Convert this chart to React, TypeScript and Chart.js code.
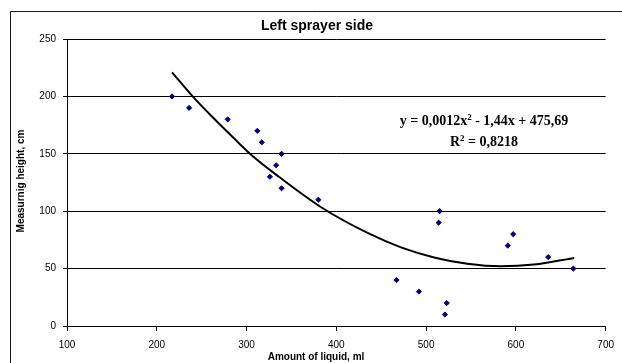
import React, { useEffect, useRef } from 'react';
import { Chart, registerables } from 'chart.js';

Chart.register(...registerables);

// Measured points (amount of liquid, ml -> measuring height, cm)
const amountMl = [217, 236, 279, 312, 317, 339, 333, 326, 339, 380, 515, 514, 597, 591, 636, 664, 467, 492, 523, 521];
const heightCm = [200, 190, 180, 170, 160, 150, 140, 130, 120, 110, 100, 90, 80, 70, 60, 50, 40, 30, 20, 10];

// Polynomial trendline
const trendAmount = [217, 240, 262, 284, 306, 336, 384, 436, 472, 510, 546, 583, 620, 665];
const trendHeight = [221, 200, 182, 165, 148.5, 130, 103, 80.6, 68.5, 59.5, 54.2, 52, 53.5, 59.3];

// Tick labels
const xTickValues = [100, 200, 300, 400, 500, 600, 700];
const yTickValues = [0, 50, 100, 150, 200, 250];

const chartTitle = 'Left sprayer side';
const xAxisTitle = 'Amount of liquid, ml';
const yAxisTitle = 'Measurnig height, cm';
const equationLine1 = [
  { text: 'y = 0,0012x', sup: false },
  { text: '2', sup: true },
  { text: ' - 1,44x + 475,69', sup: false },
];
const equationLine2 = [
  { text: 'R', sup: false },
  { text: '2', sup: true },
  { text: ' = 0,8218', sup: false },
];

const SANS = "'Liberation Sans', Arial, sans-serif";
const SERIF = "'Liberation Serif', 'Times New Roman', serif";

function drawRichLine(ctx: CanvasRenderingContext2D, segs: { text: string; sup: boolean }[], cx: number, baseline: number) {
  const normal = `bold 14px ${SERIF}`;
  const small = `bold 9px ${SERIF}`;
  let total = 0;
  for (const s of segs) {
    ctx.font = s.sup ? small : normal;
    total += ctx.measureText(s.text).width;
  }
  let x = cx - total / 2;
  ctx.textAlign = 'left';
  ctx.textBaseline = 'alphabetic';
  for (const s of segs) {
    ctx.font = s.sup ? small : normal;
    ctx.fillText(s.text, x, s.sup ? baseline - 5.5 : baseline);
    x += ctx.measureText(s.text).width;
  }
}

const decorPlugin = {
  id: 'decor',
  afterDraw(chart: any) {
    const ctx: CanvasRenderingContext2D = chart.ctx;
    ctx.save();
    // outer frame (clipped by the canvas on the right and bottom)
    ctx.strokeStyle = '#1a1a1a';
    ctx.lineWidth = 1;
    ctx.beginPath();
    ctx.moveTo(10.5, 363);
    ctx.lineTo(10.5, 11.5);
    ctx.lineTo(622, 11.5);
    ctx.stroke();

    ctx.fillStyle = '#000';
    // chart title
    ctx.font = `bold 14px ${SANS}`;
    ctx.textAlign = 'center';
    ctx.textBaseline = 'alphabetic';
    ctx.fillText(chartTitle, 317, 30);

    // x axis title
    ctx.font = `bold 10px ${SANS}`;
    ctx.textBaseline = 'middle';
    ctx.fillText(xAxisTitle, 316, 357);

    // y axis title
    ctx.save();
    ctx.translate(21, 181);
    ctx.rotate(-Math.PI / 2);
    ctx.fillText(yAxisTitle, 0, 0);
    ctx.restore();

    // trendline equation
    drawRichLine(ctx, equationLine1, 484, 125);
    drawRichLine(ctx, equationLine2, 484, 146);
    ctx.restore();
  },
};

export default function App() {
  const canvasRef = useRef<HTMLCanvasElement | null>(null);

  useEffect(() => {
    const canvas = canvasRef.current;
    if (!canvas) return;
    const chart = new Chart(canvas, {
      type: 'scatter',
      data: {
        datasets: [
          {
            label: 'Trend',
            type: 'line',
            data: trendAmount.map((x, i) => ({ x, y: trendHeight[i] })),
            borderColor: '#000',
            borderWidth: 2,
            pointRadius: 0,
            cubicInterpolationMode: 'monotone',
            fill: false,
            showLine: true,
            order: 0,
          } as any,
          {
            label: 'Measured',
            data: amountMl.map((x, i) => ({ x, y: heightCm[i] })),
            pointStyle: 'rectRot',
            pointRadius: 2.6,
            pointBackgroundColor: '#000080',
            pointBorderColor: '#000080',
            pointBorderWidth: 1,
            showLine: false,
            order: 1,
          },
        ],
      },
      options: {
        animation: false,
        responsive: false,
        devicePixelRatio: 1,
        layout: { padding: { top: 39, left: 0, right: 14, bottom: 0 } },
        plugins: {
          legend: { display: false },
          title: { display: false },
          tooltip: { enabled: false },
        },
        scales: {
          x: {
            type: 'linear',
            min: 100,
            max: 700,
            afterBuildTicks: (scale: any) => {
              scale.ticks = xTickValues.map((v) => ({ value: v }));
            },
            afterFit: (scale: any) => {
              scale.height = 37;
            },
            grid: {
              display: true,
              drawOnChartArea: false,
              drawTicks: true,
              tickLength: 5,
              color: '#000',
            },
            border: { display: true, color: '#000', width: 1 },
            ticks: {
              color: '#000',
              font: { family: SANS, size: 10 },
              padding: 8,
              maxRotation: 0,
              autoSkip: false,
            },
          },
          y: {
            type: 'linear',
            min: 0,
            max: 250,
            afterBuildTicks: (scale: any) => {
              scale.ticks = yTickValues.map((v) => ({ value: v }));
            },
            afterFit: (scale: any) => {
              scale.width = 67;
            },
            grid: {
              display: true,
              drawOnChartArea: true,
              drawTicks: true,
              tickLength: 4,
              color: '#000',
            },
            border: { display: true, color: '#000', width: 1 },
            ticks: {
              color: '#000',
              font: { family: SANS, size: 10 },
              padding: 7,
              autoSkip: false,
            },
          },
        },
      },
      plugins: [decorPlugin],
    });
    return () => chart.destroy();
  }, []);

  return (
    <div style={{ position: 'absolute', left: 0, top: 0, width: 622, height: 363, background: '#fff' }}>
      <canvas ref={canvasRef} width={622} height={363} style={{ display: 'block' }} />
    </div>
  );
}
